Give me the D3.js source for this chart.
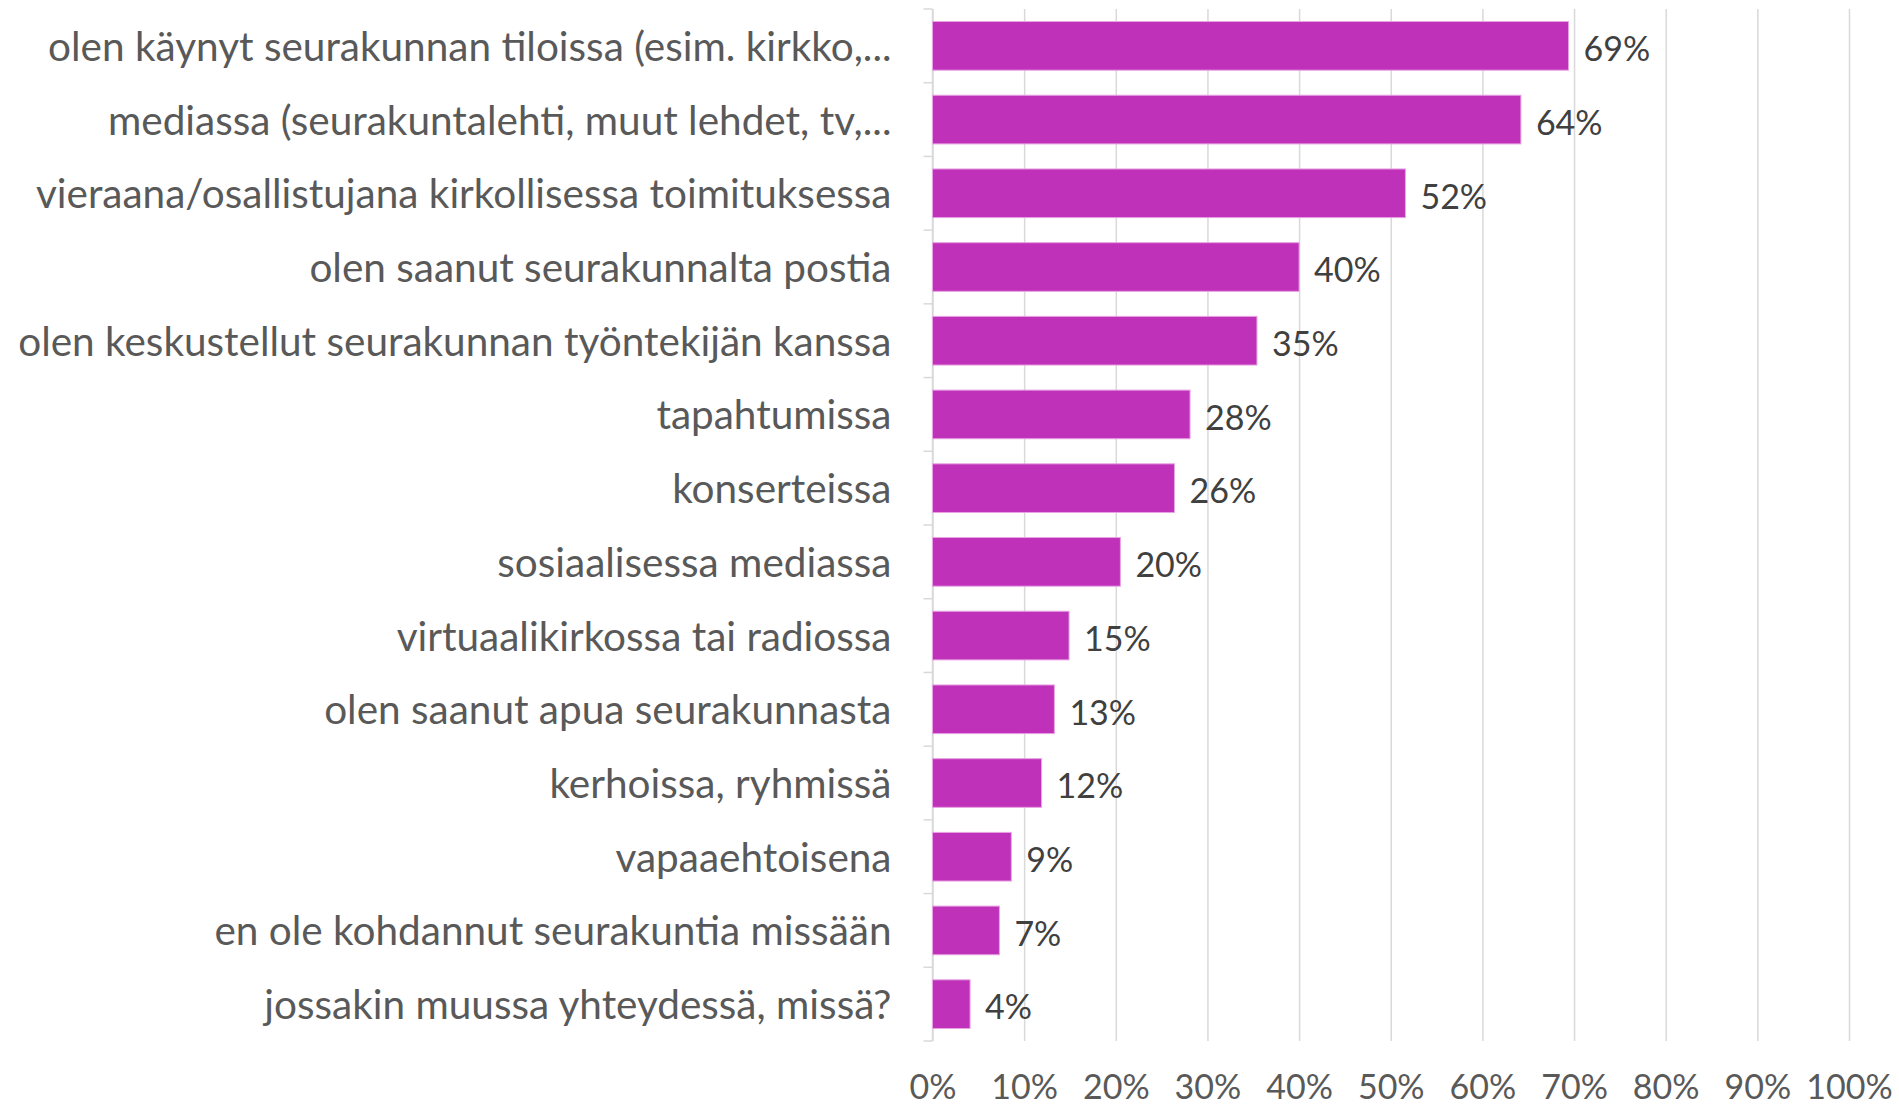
<!DOCTYPE html>
<html>
<head>
<meta charset="utf-8">
<script src="https://cdn.jsdelivr.net/npm/d3@7"></script>
<style>
  body { margin: 0; background: #fff; }
  svg text { font-family: Lato, "Open Sans", sans-serif; }
</style>
</head>
<body>
<script>
const categories = [
  "olen käynyt seurakunnan tiloissa (esim. kirkko,...",
  "mediassa (seurakuntalehti, muut lehdet, tv,...",
  "vieraana/osallistujana kirkollisessa toimituksessa",
  "olen saanut seurakunnalta postia",
  "olen keskustellut seurakunnan työntekijän kanssa",
  "tapahtumissa",
  "konserteissa",
  "sosiaalisessa mediassa",
  "virtuaalikirkossa tai radiossa",
  "olen saanut apua seurakunnasta",
  "kerhoissa, ryhmissä",
  "vapaaehtoisena",
  "en ole kohdannut seurakuntia missään",
  "jossakin muussa yhteydessä, missä?"
];
const values = [69.4, 64.2, 51.6, 40.0, 35.4, 28.1, 26.4, 20.5, 14.9, 13.3, 11.9, 8.6, 7.3, 4.1];
const labels = ["69%", "64%", "52%", "40%", "35%", "28%", "26%", "20%", "15%", "13%", "12%", "9%", "7%", "4%"];
const xTicks = [0, 10, 20, 30, 40, 50, 60, 70, 80, 90, 100];

const width = 1899;
const height = 1106;
const plotLeft = 932.5;
const plotRight = 1849;
const plotTop = 9;
const plotBottom = 1041;

const svg = d3.select("body")
  .append("svg")
  .attr("width", width)
  .attr("height", height);

const x = d3.scaleLinear().domain([0, 100]).range([plotLeft, plotRight]);
const y = d3.scaleBand().domain(categories).range([plotTop, plotBottom]).paddingInner(0.34).paddingOuter(0.17);

// gridlines + tick labels
const xAxis = svg.append("g")
  .attr("transform", `translate(0, ${plotBottom})`)
  .call(d3.axisBottom(x).tickValues(xTicks).tickSize(-(plotBottom - plotTop)).tickPadding(34).tickFormat(d => d + "%"));
xAxis.select(".domain").remove();
xAxis.selectAll("line").attr("stroke", "#d9d9d9").attr("stroke-width", 1.5);
xAxis.selectAll("text")
  .attr("fill", "#595959")
  .style("font-size", "34px")
  .attr("dy", "0.71em");

// category axis line with ticks between categories
const step = y.step();
svg.append("line")
  .attr("x1", x(0)).attr("x2", x(0))
  .attr("y1", plotTop).attr("y2", plotBottom)
  .attr("stroke", "#d9d9d9").attr("stroke-width", 1.5);
svg.selectAll(".cat-tick")
  .data(d3.range(categories.length + 1))
  .enter()
  .append("line")
  .attr("class", "cat-tick")
  .attr("x1", x(0) - 9).attr("x2", x(0))
  .attr("y1", i => plotTop + i * step).attr("y2", i => plotTop + i * step)
  .attr("stroke", "#d9d9d9").attr("stroke-width", 1.5);

const yAxis = svg.append("g")
  .attr("transform", `translate(${x(0)}, 0)`)
  .call(d3.axisLeft(y).tickSize(0).tickPadding(41));
yAxis.select(".domain").remove();
yAxis.selectAll("text")
  .attr("fill", "#595959")
  .attr("dy", "0.37em")
  .style("font-size", "40.5px");

// bars
svg.selectAll(".bar")
  .data(values)
  .enter()
  .append("rect")
  .attr("class", "bar")
  .attr("x", x(0))
  .attr("y", (d, i) => y(categories[i]))
  .attr("width", d => x(d) - x(0))
  .attr("height", y.bandwidth())
  .attr("fill", "#bf31b9")
  .attr("stroke", "#e7a3e3")
  .attr("stroke-width", 1);

// value labels
svg.selectAll(".val")
  .data(values)
  .enter()
  .append("text")
  .attr("class", "val")
  .attr("x", d => x(d) + 15)
  .attr("y", (d, i) => y(categories[i]) + y.bandwidth() / 2)
  .attr("dy", "0.45em")
  .attr("fill", "#404040")
  .style("font-size", "34px")
  .text((d, i) => labels[i]);
</script>
</body>
</html>
